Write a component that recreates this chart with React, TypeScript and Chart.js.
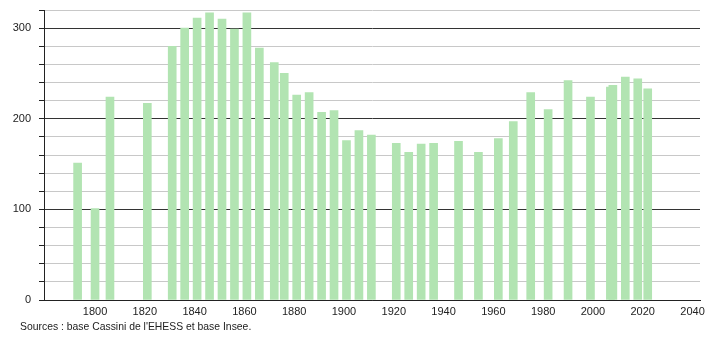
import React, { useEffect, useRef } from "react";
import { Chart, registerables } from "chart.js";

Chart.register(...registerables);

const years = [
  1793, 1800, 1806, 1821, 1831, 1836, 1841, 1846, 1851, 1856, 1861, 1866, 1872,
  1876, 1881, 1886, 1891, 1896, 1901, 1906, 1911, 1921, 1926, 1931, 1936, 1946,
  1954, 1962, 1968, 1975, 1982, 1990, 1999, 2007, 2008, 2013, 2018, 2022,
];
const population = [
  151, 101, 224, 217, 280, 300, 311, 317, 310, 299, 317, 278, 262, 250, 226, 229,
  207, 209, 176, 187, 182, 173, 163, 172, 173, 175, 163, 178, 197, 229, 210, 242,
  224, 235, 237, 246, 244, 233,
];
const xTickLabels = [1800, 1820, 1840, 1860, 1880, 1900, 1920, 1940, 1960, 1980, 2000, 2020, 2040];
const yTickValues = [0, 20, 40, 60, 80, 100, 120, 140, 160, 180, 200, 220, 240, 260, 280, 300, 320];
const yTickLabels = [0, 100, 200, 300];
const sourceText = "Sources : base Cassini de l'EHESS et base Insee.";

export default function App() {
  const canvasRef = useRef<HTMLCanvasElement | null>(null);

  useEffect(() => {
    document.body.style.margin = "0";
    const canvas = canvasRef.current;
    if (!canvas) return;
    const chart = new Chart(canvas, {
      type: "bar",
      data: {
        datasets: [
          {
            data: years.map((y, i) => ({ x: y, y: population[i] })),
            backgroundColor: "rgb(178,228,178)",
            borderWidth: 0,
            barThickness: 8,
          },
        ],
      },
      options: {
        animation: false,
        responsive: false,
        maintainAspectRatio: false,
        layout: { padding: { top: 10, right: 10, left: 0, bottom: 0 } },
        plugins: {
          legend: { display: false },
          tooltip: { enabled: false },
          title: { display: false },
        },
        scales: {
          x: {
            type: "linear",
            offset: false,
            min: 1779.5,
            max: 2043,
            afterBuildTicks: (scale: any) => {
              scale.ticks = xTickLabels.map((v) => ({ value: v }));
            },
            afterFit: (scale: any) => {
              scale.height = 40;
              scale.paddingLeft = 0;
              scale.paddingRight = 0;
            },
            ticks: {
              autoSkip: false,
              maxRotation: 0,
              padding: 5,
              color: "#222",
              font: { family: "'Liberation Sans', Arial, sans-serif", size: 11 },
              callback: (v: any) => String(v),
            },
            grid: { display: true, drawOnChartArea: false, drawTicks: false, offset: false },
            border: { display: true, color: "#222", width: 1 },
          },
          y: {
            type: "linear",
            min: 0,
            max: 320,
            afterBuildTicks: (scale: any) => {
              scale.ticks = yTickValues.map((v) => ({ value: v }));
            },
            afterFit: (scale: any) => {
              scale.width = 44;
              scale.paddingTop = 0;
              scale.paddingBottom = 0;
            },
            ticks: {
              autoSkip: false,
              padding: 8,
              color: "#222",
              font: { family: "'Liberation Sans', Arial, sans-serif", size: 11 },
              callback: (v: any) => (yTickLabels.includes(Number(v)) ? String(v) : ""),
            },
            grid: {
              color: (ctx: any) =>
                ctx.tick && yTickLabels.includes(ctx.tick.value) ? "#333" : "#c8c8c8",
              tickColor: "#222",
              tickLength: 5,
              lineWidth: 1,
            },
            border: { display: true, color: "#222", width: 1 },
          },
        },
      },
    });
    return () => chart.destroy();
  }, []);

  return (
    <div style={{ position: "absolute", left: 0, top: 0, width: 710, height: 340, background: "#fff" }}>
      <canvas ref={canvasRef} width={710} height={340} style={{ display: "block" }} />
      <div
        style={{
          position: "absolute",
          left: 20,
          top: 321,
          fontFamily: "'Liberation Sans', Arial, sans-serif",
          fontSize: 10.4,
          color: "#222",
          whiteSpace: "nowrap",
        }}
      >
        {sourceText}
      </div>
    </div>
  );
}
